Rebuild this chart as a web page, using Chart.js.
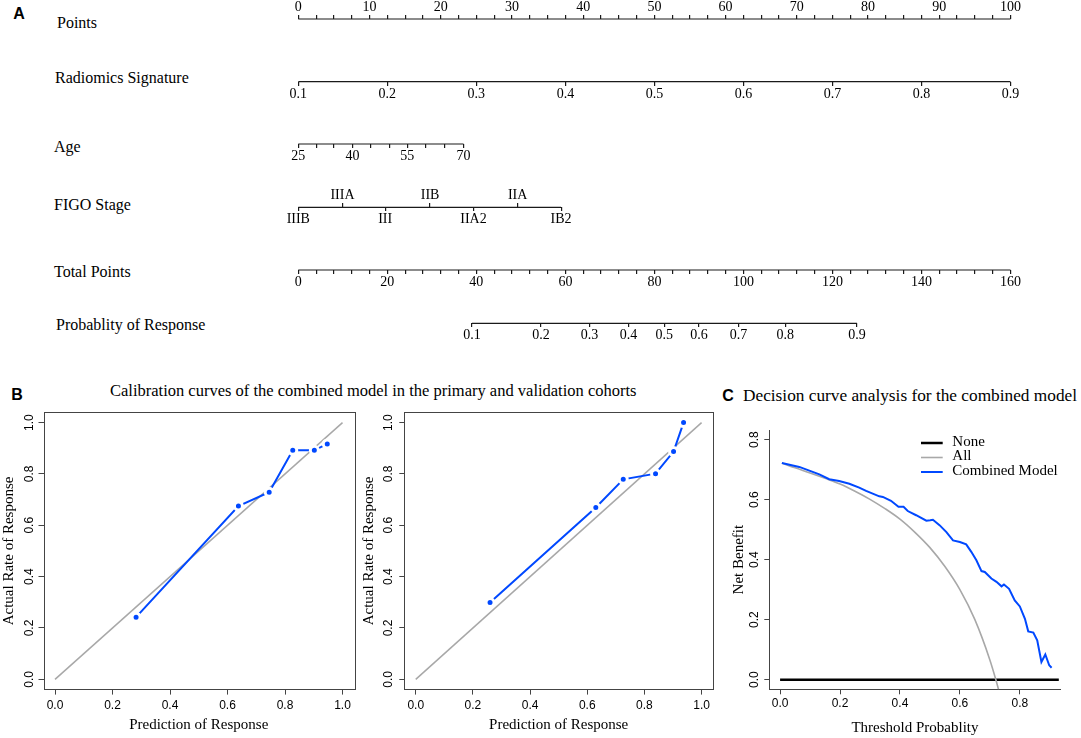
<!DOCTYPE html>
<html>
<head>
<meta charset="utf-8">
<title>Nomogram, calibration and decision curves</title>
<script src="https://cdn.jsdelivr.net/npm/chart.js@4.4.1/dist/chart.umd.min.js"></script>
<style>
  html, body { margin: 0; padding: 0; background: #fff; }
  #figure { position: relative; width: 1081px; height: 738px; overflow: hidden; background: #fff; }
  #figure canvas { position: absolute; }
  .txt { position: absolute; white-space: nowrap; color: #000; line-height: 1;
         font-family: 'Liberation Serif', 'Times New Roman', serif; }
  .row { font-size: 16px; transform: translateY(-50%); }
  .tag { font-family: 'Liberation Sans', Arial, sans-serif; font-weight: bold; font-size: 16px;
         transform: translate(-50%, -50%); }
  .title { font-size: 16.5px; transform: translateY(-50%); }
  .title.wide { font-size: 17.3px; }
</style>
</head>
<body>
<div id="figure">
  <div class="txt tag" style="left:19px;top:14px">A</div>
  <div class="txt row" style="left:57px;top:23px">Points</div>
  <div class="txt row" style="left:55px;top:78px">Radiomics Signature</div>
  <div class="txt row" style="left:54px;top:147px">Age</div>
  <div class="txt row" style="left:54px;top:205px">FIGO Stage</div>
  <div class="txt row" style="left:54px;top:272px">Total Points</div>
  <div class="txt row" style="left:56px;top:325px">Probablity of Response</div>

  <div class="txt tag" style="left:17px;top:395px">B</div>
  <div class="txt title" style="left:110px;top:391px">Calibration curves of the combined model in the primary and validation cohorts</div>
  <div class="txt tag" style="left:728px;top:396px">C</div>
  <div class="txt title wide" style="left:743px;top:396px">Decision curve analysis for the combined model</div>

  <canvas id="nomogram" width="1081" height="360" style="left:0;top:0"></canvas>
  <canvas id="calPrimary" width="362" height="340" style="left:0;top:398px"></canvas>
  <canvas id="calValid" width="360" height="340" style="left:360px;top:398px"></canvas>
  <canvas id="dca" width="351" height="340" style="left:730px;top:398px"></canvas>
</div>

<script>
// ---- Panel A: nomogram (tick values, and where each falls on the points scale) ----
const pointsLabelled = [0, 10, 20, 30, 40, 50, 60, 70, 80, 90, 100];
const radiomicsTicks = ['0.1', '0.2', '0.3', '0.4', '0.5', '0.6', '0.7', '0.8', '0.9'];
const radiomicsPoints = [0, 12.5, 25, 37.5, 50, 62.5, 75, 87.5, 100];
const ageTicks = [25, 30, 35, 40, 45, 50, 55, 60, 65, 70];
const ageLabelled = [25, 40, 55, 70];
const agePoints = [0, 2.5, 5.0, 7.6, 10.1, 12.8, 15.3, 17.9, 20.5, 23.2];
const figoStages = ['IIIB', 'IIIA', 'III', 'IIB', 'IIA2', 'IIA', 'IB2'];
const figoPoints = [0, 6.2, 12.2, 18.5, 24.6, 30.8, 36.9];
const totalLabelled = [0, 20, 40, 60, 80, 100, 120, 140, 160];
const probTicks = ['0.1', '0.2', '0.3', '0.4', '0.5', '0.6', '0.7', '0.8', '0.9'];
const probTotalPoints = [39.0, 54.5, 65.4, 74.2, 82.2, 90.0, 98.9, 109.4, 125.5];

// ---- Panel B: calibration curves ----
const calTicks = [0, 0.2, 0.4, 0.6, 0.8, 1.0];
const calIdeal = [0, 1];
const primaryPredicted = [0.282, 0.638, 0.745, 0.827, 0.902, 0.947];
const primaryActual = [0.242, 0.675, 0.729, 0.892, 0.892, 0.917];
const validPredicted = [0.260, 0.630, 0.726, 0.839, 0.902, 0.937];
const validActual = [0.299, 0.669, 0.779, 0.801, 0.887, 1.000];

// ---- Panel C: decision curve ----
const dcaTicks = [0, 0.2, 0.4, 0.6, 0.8];
const noneThreshold = [0, 0.93];
const noneBenefit = [0, 0];
const allThreshold = [0.006, 0.05, 0.1, 0.15, 0.2, 0.25, 0.3, 0.35, 0.4, 0.45, 0.5, 0.55, 0.6, 0.65, 0.7, 0.72, 0.729];
const allBenefit = [0.722, 0.706, 0.689, 0.671, 0.652, 0.628, 0.601, 0.570, 0.535, 0.491, 0.440, 0.377, 0.300, 0.200, 0.066, 0.0, -0.033];
const modelThreshold = [0.006, 0.064, 0.131, 0.164, 0.197, 0.231, 0.264, 0.287, 0.331, 0.343, 0.370, 0.395, 0.412,
  0.426, 0.454, 0.488, 0.501, 0.510, 0.532, 0.555, 0.577, 0.600, 0.621, 0.638, 0.655, 0.672, 0.683, 0.705,
  0.722, 0.739, 0.747, 0.764, 0.783, 0.800, 0.817, 0.828, 0.845, 0.858, 0.872, 0.885, 0.898, 0.906];
const modelBenefit = [0.722, 0.709, 0.684, 0.668, 0.662, 0.653, 0.640, 0.629, 0.611, 0.609, 0.596, 0.576, 0.576,
  0.562, 0.548, 0.530, 0.531, 0.533, 0.515, 0.492, 0.464, 0.459, 0.451, 0.426, 0.398, 0.362, 0.359, 0.337,
  0.326, 0.311, 0.317, 0.303, 0.264, 0.244, 0.203, 0.161, 0.157, 0.131, 0.059, 0.084, 0.048, 0.040];

// Styling
const ink = '#1a1a1a';
const axisGrey = '#444';
const blue = '#0048ff';
const grey = '#a8a8a8';
const serif = "'Liberation Serif', 'Times New Roman', serif";
const sans = "'Liberation Sans', Arial, sans-serif";

Chart.defaults.animation = false;
Chart.defaults.events = [];
Chart.defaults.color = '#000';
Chart.defaults.plugins.legend.display = false;
Chart.defaults.plugins.tooltip.enabled = false;

const toXY = (xs, ys) => xs.map((x, i) => ({ x: x, y: ys[i] }));

function stepTicks(max, step) {
    const out = [];
    for (let v = 0; v <= max + 1e-9; v += step) out.push(+v.toFixed(3));
    return out;
}

// ------------------------------------------------------------------
// Panel A
// ------------------------------------------------------------------
// vertical position of each nomogram axis inside the canvas
const rowY = { points: 19, radiomics: 81.7, age: 144, figo: 207.3, total: 270, prob: 323.3 };

function nomoScale(row, max, values, labels, above) {
    return {
        type: 'linear',
        axis: 'x',
        min: 0,
        max: max,
        position: { row: rowY[row] },
        afterBuildTicks: s => { s.ticks = values.map(v => ({ value: v })); },
        border: { display: false },
        grid: {
            drawOnChartArea: false,
            drawTicks: true,
            tickLength: above ? -4 : 4,
            color: ink,
            lineWidth: 1.2
        },
        ticks: {
            autoSkip: false,
            maxRotation: 0,
            minRotation: 0,
            padding: above ? -14.5 : 1.5,
            color: '#000',
            font: { family: serif, size: 14, lineHeight: 1 },
            callback: (v, i) => labels[i]
        }
    };
}

function axisLine(scaleId, row, from, to) {
    return {
        xAxisID: scaleId,
        yAxisID: 'row',
        data: [{ x: from, y: rowY[row] }, { x: to, y: rowY[row] }],
        showLine: true,
        borderColor: ink,
        borderWidth: 1.2,
        pointRadius: 0,
        clip: false
    };
}

const pointsMinor = stepTicks(100, 2.5);
const totalMinor = stepTicks(160, 4);
const figoLow = figoPoints.filter((p, i) => i % 2 === 0);
const figoHigh = figoPoints.filter((p, i) => i % 2 === 1);

new Chart(document.getElementById('nomogram'), {
    type: 'scatter',
    data: {
        datasets: [
            axisLine('pts', 'points', 0, 100),
            axisLine('rad', 'radiomics', radiomicsPoints[0], radiomicsPoints[radiomicsPoints.length - 1]),
            axisLine('age', 'age', agePoints[0], agePoints[agePoints.length - 1]),
            axisLine('figoLo', 'figo', figoPoints[0], figoPoints[figoPoints.length - 1]),
            axisLine('tot', 'total', 0, 160),
            axisLine('prob', 'prob', probTotalPoints[0], probTotalPoints[probTotalPoints.length - 1])
        ]
    },
    options: {
        responsive: false,
        layout: { padding: { left: 298.3, right: 70.5, top: 0, bottom: 0 } },
        scales: {
            row: { type: 'linear', axis: 'y', min: 0, max: 360, reverse: true, display: false },
            pts: nomoScale('points', 100, pointsMinor,
                pointsMinor.map(v => pointsLabelled.includes(v) ? String(v) : ''), true),
            rad: nomoScale('radiomics', 100, radiomicsPoints, radiomicsTicks, false),
            age: nomoScale('age', 100, agePoints,
                ageTicks.map(a => ageLabelled.includes(a) ? String(a) : ''), false),
            figoLo: nomoScale('figo', 100, figoLow, figoStages.filter((s, i) => i % 2 === 0), false),
            figoHi: nomoScale('figo', 100, figoHigh, figoStages.filter((s, i) => i % 2 === 1), true),
            tot: nomoScale('total', 160, totalMinor,
                totalMinor.map(v => totalLabelled.includes(v) ? String(v) : ''), false),
            prob: nomoScale('prob', 160, probTotalPoints, probTicks, false)
        }
    }
});

// ------------------------------------------------------------------
// Shared helpers for the R-style plots
// ------------------------------------------------------------------
// y tick labels drawn parallel to the axis, as R does
const rotatedYLabels = {
    id: 'rotatedYLabels',
    afterDraw(chart, args, opts) {
        const y = chart.scales.y;
        const ctx = chart.ctx;
        ctx.save();
        ctx.font = '12px ' + sans;
        ctx.fillStyle = '#000';
        ctx.textAlign = 'center';
        ctx.textBaseline = 'middle';
        y.ticks.forEach(t => {
            ctx.save();
            ctx.translate(chart.chartArea.left - opts.gap, y.getPixelForValue(t.value));
            ctx.rotate(-Math.PI / 2);
            ctx.fillText(t.value.toFixed(1), 0, 0);
            ctx.restore();
        });
        ctx.restore();
    }
};

const frameBox = {
    id: 'frameBox',
    afterDraw(chart, args, opts) {
        if (!opts.display) return;
        const a = chart.chartArea;
        const ctx = chart.ctx;
        ctx.save();
        ctx.strokeStyle = axisGrey;
        ctx.lineWidth = 1;
        ctx.strokeRect(Math.round(a.left) + 0.5, Math.round(a.top) + 0.5,
            Math.round(a.right - a.left), Math.round(a.bottom - a.top));
        ctx.restore();
    }
};

function rAxis(opts) {
    return {
        type: 'linear',
        position: opts.position,
        min: opts.min,
        max: opts.max,
        afterBuildTicks: s => { s.ticks = opts.ticks.map(v => ({ value: v })); },
        afterFit: s => {
            if (opts.position === 'bottom') s.height = opts.size; else s.width = opts.size;
        },
        border: { display: opts.border, color: axisGrey, width: 1 },
        grid: { drawOnChartArea: false, drawTicks: true, tickLength: 5, color: axisGrey, lineWidth: 1 },
        ticks: {
            display: opts.position === 'bottom',
            autoSkip: false,
            maxRotation: 0,
            minRotation: 0,
            padding: opts.labelPad,
            color: '#000',
            font: { family: sans, size: 12, lineHeight: 1.2 },
            callback: v => v.toFixed(1)
        },
        title: {
            display: true,
            text: opts.title,
            color: '#000',
            font: { family: serif, size: 15, lineHeight: 1.2 },
            padding: { top: opts.titlePad, bottom: opts.titlePad }
        }
    };
}

// ------------------------------------------------------------------
// Panel B
// ------------------------------------------------------------------
function calibrationChart(id, predicted, actual, geom) {
    return new Chart(document.getElementById(id), {
        type: 'scatter',
        data: {
            datasets: [
                {
                    data: toXY(predicted, actual),
                    showLine: true,
                    borderColor: blue,
                    borderWidth: 2,
                    pointRadius: 4,
                    pointBorderWidth: 3,
                    pointBorderColor: '#fff',
                    pointBackgroundColor: blue
                },
                {
                    data: toXY(calIdeal, calIdeal),
                    showLine: true,
                    borderColor: grey,
                    borderWidth: 1.5,
                    pointRadius: 0
                }
            ]
        },
        options: {
            responsive: false,
            layout: { padding: { left: 0, right: geom.right, top: 14.3, bottom: 0 } },
            scales: {
                x: rAxis({ position: 'bottom', min: -0.04, max: 1.04, ticks: calTicks, size: 48.4,
                    labelPad: 4.2, titlePad: 4, border: false, title: 'Prediction of Response' }),
                y: rAxis({ position: 'left', min: -0.04, max: 1.04, ticks: calTicks, size: geom.yWidth,
                    labelPad: 0, titlePad: 0, border: false, title: 'Actual Rate of Response' })
            },
            plugins: {
                rotatedYLabels: { gap: geom.gap },
                frameBox: { display: true }
            }
        },
        plugins: [rotatedYLabels, frameBox]
    });
}

calibrationChart('calPrimary', primaryPredicted, primaryActual, { right: 8, yWidth: 43.5, gap: 14.3 });
calibrationChart('calValid', validPredicted, validActual, { right: 6, yWidth: 44.3, gap: 16 });

// ------------------------------------------------------------------
// Panel C
// ------------------------------------------------------------------
const dcaLegend = {
    id: 'dcaLegend',
    afterDraw(chart) {
        const ctx = chart.ctx;
        const a = chart.chartArea;
        const items = chart.data.datasets.slice().reverse();
        ctx.save();
        ctx.font = '15px ' + serif;
        ctx.fillStyle = '#000';
        ctx.textAlign = 'left';
        ctx.textBaseline = 'middle';
        items.forEach((ds, i) => {
            const y = a.top + 13 + i * 14.5;
            ctx.strokeStyle = ds.borderColor;
            ctx.lineWidth = ds.borderWidth;
            ctx.beginPath();
            ctx.moveTo(a.left + 151.7, y);
            ctx.lineTo(a.left + 173.4, y);
            ctx.stroke();
            ctx.fillText(ds.label, a.left + 183, y - 1);
        });
        ctx.restore();
    }
};

new Chart(document.getElementById('dca'), {
    type: 'scatter',
    data: {
        datasets: [
            {
                label: 'Combined Model',
                data: toXY(modelThreshold, modelBenefit),
                showLine: true,
                borderColor: blue,
                borderWidth: 2,
                pointRadius: 0
            },
            {
                label: 'All',
                data: toXY(allThreshold, allBenefit),
                showLine: true,
                borderColor: grey,
                borderWidth: 1.6,
                cubicInterpolationMode: 'monotone',
                pointRadius: 0
            },
            {
                label: 'None',
                data: toXY(noneThreshold, noneBenefit),
                showLine: true,
                borderColor: '#000',
                borderWidth: 2.5,
                pointRadius: 0
            }
        ]
    },
    options: {
        responsive: false,
        layout: { padding: { left: 0, right: 20.4, top: 32, bottom: 0 } },
        scales: {
            x: rAxis({ position: 'bottom', min: -0.036, max: 0.936, ticks: dcaTicks, size: 48.7,
                labelPad: 2.5, titlePad: 1.3, border: true, title: 'Threshold Probablity' }),
            y: rAxis({ position: 'left', min: -0.032, max: 0.832, ticks: dcaTicks, size: 39.3,
                labelPad: 0, titlePad: 0.3, border: true, title: 'Net Benefit' })
        },
        plugins: {
            rotatedYLabels: { gap: 14.3 },
            frameBox: { display: false }
        }
    },
    plugins: [rotatedYLabels, frameBox, dcaLegend]
});
</script>
</body>
</html>
